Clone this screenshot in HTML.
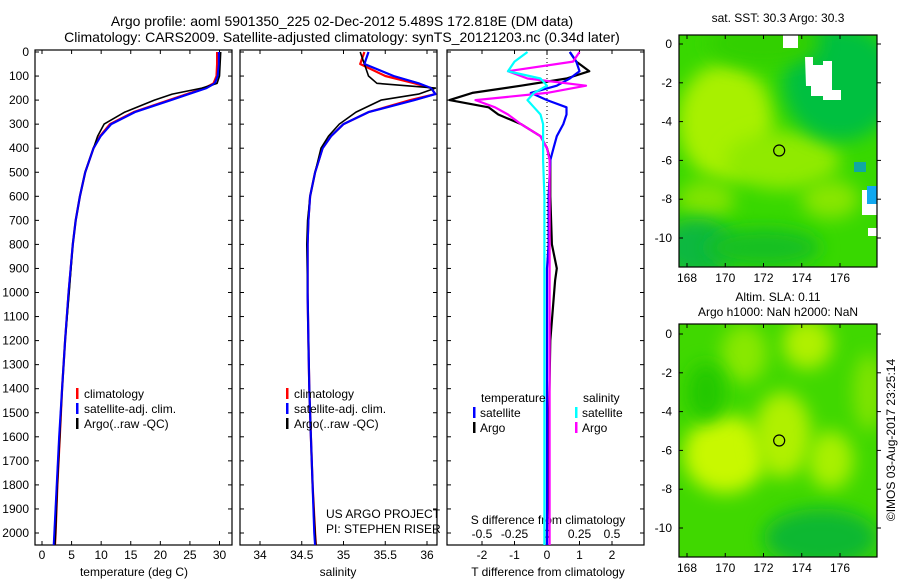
<!DOCTYPE html>
<html><head><meta charset="utf-8"><style>
body{margin:0;background:#fff}
svg{display:block;font-family:"Liberation Sans",sans-serif}
</style></head><body>
<svg id="c" width="900" height="580" viewBox="0 0 900 580" xmlns="http://www.w3.org/2000/svg">
<defs>
<filter id="bl" x="-50%" y="-50%" width="200%" height="200%"><feGaussianBlur stdDeviation="9"/></filter>
<filter id="bl2" x="-50%" y="-50%" width="200%" height="200%"><feGaussianBlur stdDeviation="6"/></filter>
<clipPath id="m1"><rect x="679" y="35" width="198" height="232"/></clipPath>
<clipPath id="m2"><rect x="679" y="324" width="198" height="233"/></clipPath>
</defs>
<text x="342" y="26" font-size="14" text-anchor="middle">Argo profile: aoml 5901350_225 02-Dec-2012 5.489S 172.818E (DM data)</text>
<text x="342" y="42" font-size="14" text-anchor="middle">Climatology: CARS2009. Satellite-adjusted climatology: synTS_20121203.nc (0.34d later)</text>
<g id="plots"></g>
<text x="778" y="22" font-size="12" text-anchor="middle">sat. SST: 30.3 Argo: 30.3</text>
<text x="778" y="301" font-size="12" text-anchor="middle">Altim. SLA: 0.11</text>
<text x="778" y="316" font-size="12" text-anchor="middle">Argo h1000: NaN h2000: NaN</text>
<text transform="translate(895,440) rotate(-90)" font-size="12" text-anchor="middle">©IMOS 03-Aug-2017 23:25:14</text>
</svg>
<script>
const depths=[0,50,100,130,150,175,200,250,300,350,400,500,600,700,800,1000,1200,1400,1600,1800,2000,2050];
const tClim=[29.6,29.6,29.5,29.0,27.5,24.5,21.5,15.5,11.5,9.8,8.7,7.3,6.4,5.7,5.2,4.5,3.9,3.4,3.0,2.6,2.3,2.2];
const tSat=[29.9,29.9,29.7,29.2,27.8,24.8,21.8,15.7,11.7,9.9,8.7,7.3,6.4,5.7,5.2,4.5,3.9,3.4,2.9,2.5,2.1,2.0];
const tArgo=[30.2,30.1,30.0,29.6,27.0,22.0,19.0,14.0,10.5,9.4,8.7,7.3,6.4,5.7,5.2,4.6,3.9,3.4,3.0,2.6,2.3,2.2];
const sClim=[35.25,35.2,35.5,35.85,36.05,36.1,35.8,35.3,35.0,34.85,34.75,34.66,34.6,34.58,34.57,34.57,34.58,34.59,34.61,34.63,34.66,34.67];
const sSat=[35.3,35.25,35.6,35.9,36.05,36.1,35.85,35.3,35.0,34.85,34.75,34.66,34.6,34.58,34.57,34.57,34.58,34.59,34.61,34.63,34.65,34.66];
const sArgo=[35.2,35.25,35.3,35.4,36.1,35.9,35.45,35.15,34.95,34.82,34.73,34.66,34.6,34.57,34.56,34.57,34.58,34.59,34.61,34.63,34.66,34.67];
const dDepth=[0,40,80,110,140,170,200,230,260,300,350,400,450,600,800,900,950,1200,1600,2000,2050];
const dTsat=[0.7,0.9,1.0,0.7,0.3,-0.5,0.0,0.6,0.6,0.5,0.3,0.2,0.1,0.05,0.05,0.0,0.0,0.0,0.0,0.0,0.0];
const dTargo=[0.7,0.9,1.3,0.6,-0.8,-2.3,-3.0,-1.8,-1.5,-0.8,-0.2,0.0,0.1,0.1,0.15,0.3,0.25,0.1,0.05,0.0,0.0];
const dSsat=[-0.15,-0.25,-0.3,-0.05,0.0,-0.1,-0.15,-0.1,-0.05,-0.03,-0.03,-0.03,-0.03,-0.02,-0.02,-0.02,-0.02,-0.02,-0.02,-0.02,-0.02];
const dSargo=[0.25,0.2,-0.3,-0.15,0.3,0.0,-0.55,-0.4,-0.3,-0.2,-0.05,0.0,0.02,0.02,0.02,0.02,0.02,0.02,0.02,0.02,0.02];
const depthTicks=[0,100,200,300,400,500,600,700,800,900,1000,1100,1200,1300,1400,1500,1600,1700,1800,1900,2000];
const tTicks=[0,5,10,15,20,25,30];
const sTicks=[34,34.5,35,35.5,36];
const dTTicks=[-2,-1,0,1,2];
const dSTicks=[-0.5,-0.25,0,0.25,0.5];
const lonTicks=[168,170,172,174,176];
const latTicks=[0,-2,-4,-6,-8,-10];

const NS="http://www.w3.org/2000/svg";
const G=document.getElementById('plots');
function mk(tag,at,par){const e=document.createElementNS(NS,tag);for(const k in at)e.setAttribute(k,at[k]);(par||G).appendChild(e);return e;}
function txt(x,y,s,anchor,size,par){const e=mk('text',{x:x,y:y,'font-size':size||12,'text-anchor':anchor||'middle'},par);e.textContent=s;return e;}
const yD=d=>52+d*0.2405;
const PT=0,PB=545;
function lin(a,b,pa,pb){return v=>pa+(v-a)*(pb-pa)/(b-a);}
const xT=lin(0,30,42,219.5), xS=lin(34,36,260,427), xDT=lin(0,1,547,579.5), xDS=lin(0,1,547,677);

function panel(x0,name){
  const r=mk('rect',{x:x0,y:50,width:197,height:495,fill:'none',stroke:'#000','stroke-width':1.2});
  
  
  depthTicks.forEach(d=>{const y=yD(d);mk('line',{x1:x0,x2:x0+4,y1:y,y2:y,stroke:'#000'});mk('line',{x1:x0+197,x2:x0+193,y1:y,y2:y,stroke:'#000'});});
}
function line(ds,vs,fx,col,name,w){
  const p=ds.map((d,i)=>fx(vs[i]).toFixed(1)+','+yD(d).toFixed(1)).join(' ');
  const e=mk('polyline',{points:p,fill:'none',stroke:col,'stroke-width':w||2.2,'stroke-linejoin':'round'});
  
  
}
function xticks(ticks,fx,x0,y,labelY){
  ticks.forEach(t=>{const x=fx(t);mk('line',{x1:x,x2:x,y1:545,y2:541,stroke:'#000'});mk('line',{x1:x,x2:x,y1:50,y2:54,stroke:'#000'});
    const e=txt(x,labelY,String(t));});
}
// panel 1
panel(35,'temperature-panel');
depthTicks.forEach(d=>{const e=txt(29,yD(d)+4,String(d),'end');});
xticks(tTicks,xT,35,545,559);
let e=txt(134,576,'temperature (deg C)');
line(depths,tClim,xT,'#f00','temperature-climatology-line');
line(depths,tSat,xT,'#00f','temperature-satellite-line');
line(depths,tArgo,xT,'#000','temperature-argo-line',1.6);
line(depths,tSat,xT,'#00f','temperature-satellite-line-top',1.6);
function legend(x,items){items.forEach((it,i)=>{const y=398+i*15;mk('rect',{x:x,y:y-10,width:2.5,height:11,fill:it[1]});
  const t=txt(x+8,y,it[0],'start');});}
legend(76,[['climatology','#f00'],['satellite-adj. clim.','#00f'],['Argo(..raw -QC)','#000']]);
// panel 2
panel(240,'salinity-panel');
xticks(sTicks,xS,240,545,559);
e=txt(338,576,'salinity');
line(depths,sClim,xS,'#f00','salinity-climatology-line');
line(depths,sSat,xS,'#00f','salinity-satellite-line');
line(depths,sArgo,xS,'#000','salinity-argo-line',1.6);
line(depths,sSat,xS,'#00f','salinity-satellite-line-top',1.6);
legend(286,[['climatology','#f00'],['satellite-adj. clim.','#00f'],['Argo(..raw -QC)','#000']]);
e=txt(326,518,'US ARGO PROJECT','start');
e=txt(326,533,'PI: STEPHEN RISER','start');
// panel 3
panel(447,'difference-panel');
mk('line',{x1:547,x2:547,y1:50,y2:545,stroke:'#000','stroke-dasharray':'1,3'});
dTTicks.forEach(t=>{const x=xDT(t);mk('line',{x1:x,x2:x,y1:545,y2:541,stroke:'#000'});mk('line',{x1:x,x2:x,y1:50,y2:54,stroke:'#000'});
  const q=txt(x,559,String(t));});
dSTicks.forEach(t=>{const q=txt(xDS(t),538,String(t));});
e=txt(548,524,'S difference from climatology');
e=txt(548,576,'T difference from climatology');
line(dDepth,dTargo,xDT,'#000','t-diff-argo-line');
line(dDepth,dTsat,xDT,'#00f','t-diff-satellite-line');
line(dDepth,dSargo,xDS,'#f0f','s-diff-argo-line');
line(dDepth,dSsat,xDS,'#0ff','s-diff-satellite-line');
e=txt(481,402,'temperature','start');
e=txt(583,402,'salinity','start');
[['satellite','#00f',473],['Argo','#000',473],['satellite','#0ff',575],['Argo','#f0f',575]].forEach((it,i)=>{
  const y=417+(i%2)*15;mk('rect',{x:it[2],y:y-10,width:2.5,height:11,fill:it[1]});
  const t=txt(it[2]+7,y,it[0],'start');});

// maps
const lon=lin(168,176,687,840);
function map(y0,y1,lat0,lat10,clip,blobs,name,base){
  const la=lin(0,-10,lat0,lat10);
  const g=mk('g',{'clip-path':'url(#'+clip+')'});
  
  
  mk('rect',{x:679,y:y0,width:198,height:y1-y0,fill:base},g);
  blobs.forEach(b=>mk('ellipse',{cx:lon(b[0]),cy:la(b[1]),rx:b[2]*19.1,ry:b[3]*19.4,fill:b[4],filter:'url(#bl)'},g));
  mk('rect',{x:679,y:y0,width:198,height:y1-y0,fill:'none',stroke:'#000','stroke-width':1.2});
  const c=mk('circle',{cx:lon(172.82),cy:la(-5.49),r:5.5,fill:'none',stroke:'#000','stroke-width':1.2});
  
  lonTicks.forEach(t=>{const x=lon(t);mk('line',{x1:x,x2:x,y1:y1,y2:y1-4,stroke:'#000'});mk('line',{x1:x,x2:x,y1:y0,y2:y0+4,stroke:'#000'});
    const q=txt(x,y1+15,String(t));});
  latTicks.forEach(t=>{const y=la(t);mk('line',{x1:679,x2:683,y1:y,y2:y,stroke:'#000'});mk('line',{x1:877,x2:881,y1:y,y2:y,stroke:'#000'});
    const q=txt(672,y+4,String(t),'end');});
  return g;
}
const g1=map(35,267,44,238,'m1',[
 [170,-4,2.5,3,'#a8f000'],[173,-6,3,1.5,'#90ea00'],[169,-8,1.5,1,'#80e400'],[175.5,-8,1.5,1,'#88e600'],
 [176,-2,3,3,'#00c040'],[168.5,-10.5,2,1.5,'#10b840'],[172,-10.5,3,1,'#18c020'],[172,0,3,1.2,'#30d000']],'sst-map','#38d800');
mk('path',{d:'M783 35h15v13h-15zM805 57h8v8h10v-4h9v35h-21v-10h-5zM823 90h18v10h-18zM862 190h15v25h-15zM868 228h10v8h-10z',fill:'#fff'},g1);
mk('rect',{x:867,y:186,width:10,height:18,fill:'#10a8f0'},g1);
mk('rect',{x:854,y:162,width:12,height:10,fill:'#10a8a0'},g1);
const g2=map(324,557,334,528,'m2',[
 [170,-6.2,2.2,2,'#c8f800'],[173,-5.2,1.5,2.2,'#b0f000'],[175.5,-6.5,1.2,1.5,'#a8f000'],[174.3,-0.5,1.3,1.3,'#b0f000'],
 [171,-1,1.2,1.5,'#88e800'],[175,-10.5,3,1.5,'#10b830'],[169,-3,1,1.5,'#20c800'],[177.5,-3,0.8,2,'#80e400']],'sla-map','#40d800');
</script>
</body></html>
